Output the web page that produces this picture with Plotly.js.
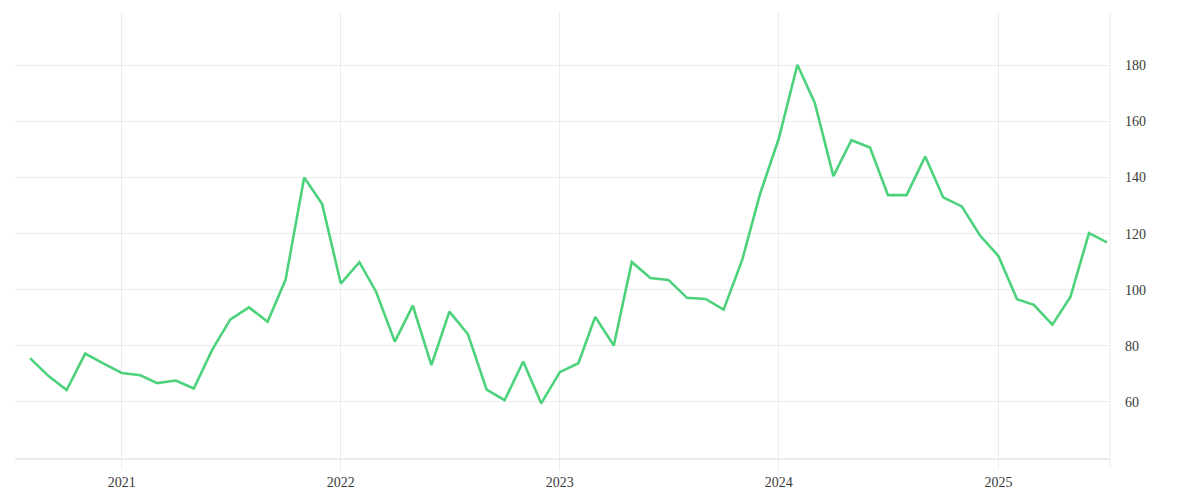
<!DOCTYPE html>
<html>
<head>
<meta charset="utf-8">
<script src="https://cdn.plot.ly/plotly-3.0.1.min.js"></script>
<style>
  html, body { margin: 0; padding: 0; background: #fff; }
  #chart { width: 1200px; height: 500px; }
</style>
</head>
<body>
<div id="chart"></div>
<script>
// monthly values, Aug 2020 .. Jul 2025
const startMonth = [2020, 8];
const values = [
  75.6, 69.2, 64.2, 77.2, 73.7, 70.3, 69.5, 66.7, 67.6, 64.8,
  78.7, 89.4, 93.7, 88.6, 103.6, 140.0, 130.5, 102.2, 109.8, 99.2,
  81.5, 94.3, 73.1, 92.2, 84.1, 64.4, 60.6, 74.4, 59.5, 70.6,
  73.8, 90.3, 80.1, 109.9, 104.2, 103.5, 97.1, 96.7, 92.9, 110.6,
  134.3, 153.9, 180.2, 166.6, 140.5, 153.3, 150.7, 133.7, 133.7, 147.5,
  132.9, 129.7, 119.4, 112.0, 96.6, 94.6, 87.5, 97.4, 120.2, 116.9
];
const yTicks = [60, 80, 100, 120, 140, 160, 180];

// build the month dates
const dates = values.map((v, i) => {
    let m = startMonth[1] - 1 + i;
    let y = startMonth[0] + Math.floor(m / 12);
    let mm = (m % 12) + 1;
    return y + "-" + String(mm).padStart(2, "0") + "-01";
});

let trace = {
    x: dates,
    y: values,
    type: "scatter",
    mode: "lines",
    line: {color: "#4cd27a", width: 2.6},
    hoverinfo: "x+y"
};

const gridCol = "#ececec";

let layout = {
    width: 1200,
    height: 500,
    margin: {l: 15, r: 90, t: 12, b: 42},
    paper_bgcolor: "#ffffff",
    plot_bgcolor: "#ffffff",
    showlegend: false,
    font: {family: "Liberation Serif, serif", size: 14, color: "#3a3a3a"},
    xaxis: {
        type: "date",
        range: ["2020-07-07", "2025-07-06"],
        dtick: "M12",
        tick0: "2021-01-01",
        tickformat: "%Y",
        showgrid: true,
        gridcolor: gridCol,
        gridwidth: 1,
        ticks: "outside",
        ticklen: 10,
        tickcolor: gridCol,
        showline: true,
        linecolor: gridCol,
        linewidth: 2,
        zeroline: false
    },
    yaxis: {
        side: "right",
        range: [40, 199],
        tickvals: yTicks,
        showgrid: true,
        gridcolor: gridCol,
        gridwidth: 1,
        ticks: "",
        ticklabelstandoff: 14,
        showline: false,
        zeroline: false
    },
    shapes: [
        {type: "line", xref: "paper", yref: "paper", x0: 1, x1: 1, y0: -0.0225, y1: 1,
         line: {color: gridCol, width: 1}}
    ]
};

Plotly.newPlot("chart", [trace], layout, {displayModeBar: false, staticPlot: true});
</script>
</body>
</html>
